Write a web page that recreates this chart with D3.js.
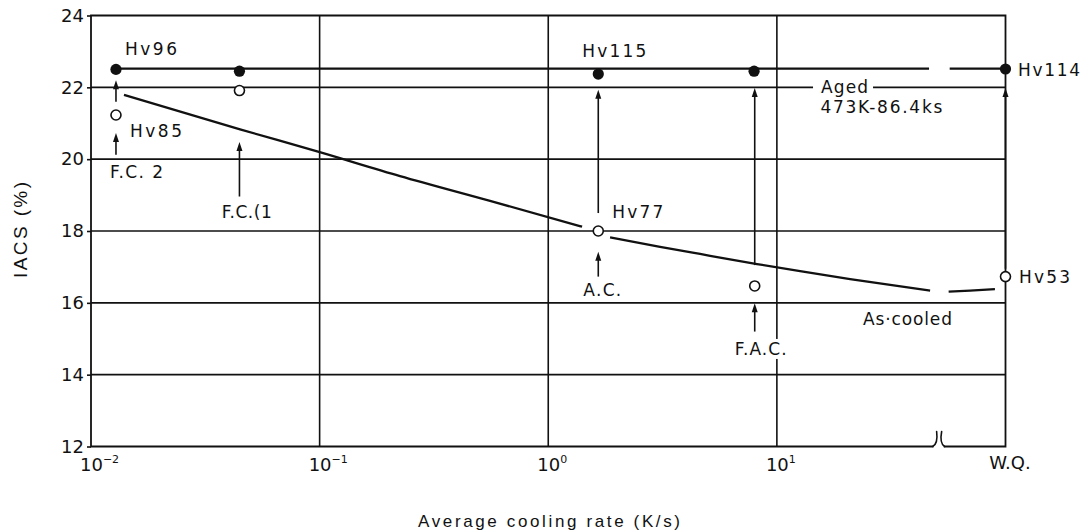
<!DOCTYPE html>
<html>
<head>
<meta charset="utf-8">
<script src="https://cdn.jsdelivr.net/npm/d3@7"></script>
<style>
  html, body { margin: 0; padding: 0; background: #fff; }
  svg { display: block; }
</style>
</head>
<body>
<svg id="chart" width="1085" height="531"></svg>
<script>
// ---- data ----
const xTicks = [0.01, 0.1, 1, 10, 100];
const xTickBase = ["10", "10", "10", "10", "W.Q."];
const xTickExp = ["\u22122", "\u22121", "0", "1", ""];
const yTicks = [12, 14, 16, 18, 20, 22, 24];
const gridX = [0.1, 1, 10];
const gridY = [14, 16, 18, 20, 22];
const breakRate = 51;

// measured points: aged (filled) and as-cooled (open)
const agedRate = [0.01286, 0.0446, 1.655, 7.95, 100];
const agedIACS = [22.50, 22.45, 22.37, 22.45, 22.51];
const cooledRate = [0.01286, 0.0446, 1.655, 8.0, 100];
const cooledIACS = [21.23, 21.91, 18.0, 16.47, 16.73];

// trend lines (null = gap in the drawn line)
const agedTrendRate = [0.01286, 46.3, null, 57.0, 100];
const agedTrendIACS = [22.52, 22.52, null, 22.52, 22.52];
const cooledTrendRate = [0.01394, 0.04487, 0.0984, 0.2247, 0.5564, 1.406, null,
                         1.864, 3.084, 4.615, 8.19, 12.64, 20.91, 46.8, null,
                         56.4, 70.0, 89.9];
const cooledTrendIACS = [21.79, 20.83, 20.21, 19.53, 18.84, 18.12, null,
                         17.82, 17.56, 17.36, 17.08, 16.88, 16.66, 16.34, null,
                         16.31, 16.34, 16.38];

// vertical arrows: rate, from IACS, to IACS
const arrowRate = [0.01286, 0.01286, 0.0446, 1.655, 1.655, 8.0, 8.0, 100];
const arrowFrom = [20.12, 21.60, 18.96, 16.73, 18.50, 15.20, 17.05, 16.95];
const arrowTo   = [20.73, 22.20, 20.48, 17.42, 21.93, 15.99, 21.98, 21.98];

// ---- layout ----
const W = 1085, H = 531;
const x = d3.scaleLog().domain([0.01, 100]).range([91, 1005.5]);
const y = d3.scaleLinear().domain([12, 24]).range([446.5, 15.5]);
const ink = "#111";

const svg = d3.select("#chart");
svg.append("rect").attr("width", W).attr("height", H).attr("fill", "#fff");

// grid
const grid = svg.append("g").attr("stroke", ink).attr("stroke-width", 1.6);
grid.selectAll("line.gx").data(gridX).join("line")
  .attr("x1", d => x(d)).attr("x2", d => x(d))
  .attr("y1", y(24)).attr("y2", y(12));
grid.selectAll("line.gy").data(gridY).join("line")
  .attr("x1", x(0.01)).attr("x2", x(100))
  .attr("y1", d => y(d)).attr("y2", d => y(d));

// frame with axis break at the bottom
const frame = svg.append("g").attr("stroke", ink).attr("stroke-width", 1.8)
  .attr("fill", "none").attr("stroke-linecap", "square");
const bx = x(breakRate);
frame.append("path").attr("d",
  `M${x(0.01)},${y(12)} V${y(24)} H${x(100)} V${y(12)} H${bx + 6}` +
  ` M${bx - 6},${y(12)} H${x(0.01)}`);
frame.append("path").attr("stroke-linecap", "round").attr("stroke-width", 1.6).attr("d",
  `M${bx - 2},${y(12) - 15} C${bx - 1},${y(12) - 7} ${bx - 2},${y(12) - 2} ${bx - 6},${y(12)}` +
  ` M${bx + 3},${y(12) - 15} C${bx + 1.5},${y(12) - 7} ${bx + 2.5},${y(12) - 2} ${bx + 6},${y(12)}`);

// axes
const gy = svg.append("g").attr("transform", `translate(${x(0.01)},0)`)
  .call(d3.axisLeft(y).tickValues(yTicks).tickSize(4).tickPadding(3));
gy.select(".domain").remove();
gy.selectAll(".tick line").attr("stroke", ink).attr("stroke-width", 1.6);
gy.selectAll(".tick text").attr("fill", ink)
  .attr("font-family", "'DejaVu Sans', sans-serif").attr("font-size", 18);

const gxAxis = svg.append("g").attr("transform", `translate(0,${y(12)})`)
  .call(d3.axisBottom(x).tickValues(xTicks).tickSize(0).tickFormat(() => ""));
gxAxis.select(".domain").remove();
gxAxis.selectAll(".tick text").each(function (d, i) {
  const t = d3.select(this).text(null)
    .attr("fill", ink).attr("font-family", "'DejaVu Sans', sans-serif")
    .attr("font-size", 18).attr("dy", null);
  if (xTickExp[i]) {
    t.attr("text-anchor", "start").attr("x", -11.5).attr("y", 24);
    t.append("tspan").text(xTickBase[i]);
    t.append("tspan").attr("font-size", 11).attr("dy", -8).text(xTickExp[i]);
  } else {
    t.attr("text-anchor", "middle").attr("x", 4).attr("y", 22).text(xTickBase[i]);
  }
});

// axis titles
svg.append("text")
  .attr("x", 549).attr("y", 527).attr("text-anchor", "middle")
  .attr("font-family", "'Liberation Sans', Arial, sans-serif").attr("font-size", 17)
  .attr("textLength", 262).attr("lengthAdjust", "spacing")
  .attr("fill", ink).text("Average cooling rate (K/s)");
svg.append("text")
  .attr("transform", "translate(26.5,230) rotate(-90)").attr("text-anchor", "middle")
  .attr("font-family", "'Liberation Sans', Arial, sans-serif").attr("font-size", 19)
  .attr("textLength", 96).attr("lengthAdjust", "spacing")
  .attr("fill", ink).text("IACS (%)");

// trend lines
const line = d3.line()
  .defined(d => d[0] != null)
  .x(d => x(d[0])).y(d => y(d[1]))
  .curve(d3.curveMonotoneX);
svg.append("path")
  .datum(agedTrendRate.map((r, i) => [r, agedTrendIACS[i]]))
  .attr("d", line).attr("fill", "none").attr("stroke", ink).attr("stroke-width", 2.2);
svg.append("path")
  .datum(cooledTrendRate.map((r, i) => [r, cooledTrendIACS[i]]))
  .attr("d", line).attr("fill", "none").attr("stroke", ink).attr("stroke-width", 2.3);

// arrows
const arrows = svg.append("g");
arrowRate.forEach((r, i) => {
  const ax = x(r), y0 = y(arrowFrom[i]), y1 = y(arrowTo[i]);
  arrows.append("line").attr("x1", ax).attr("x2", ax)
    .attr("y1", y0).attr("y2", y1 + 6)
    .attr("stroke", ink).attr("stroke-width", 1.6);
  arrows.append("path")
    .attr("d", `M${ax},${y1} L${ax - 3},${y1 + 9} L${ax + 3},${y1 + 9} Z`)
    .attr("fill", ink);
});

// points
svg.append("g").selectAll("circle").data(cooledRate).join("circle")
  .attr("cx", d => x(d)).attr("cy", (d, i) => y(cooledIACS[i]))
  .attr("r", 5).attr("fill", "#fff").attr("stroke", ink).attr("stroke-width", 1.6);
svg.append("g").selectAll("circle").data(agedRate).join("circle")
  .attr("cx", d => x(d)).attr("cy", (d, i) => y(agedIACS[i]))
  .attr("r", 5.6).attr("fill", ink);

// annotations
const notes = [
  { text: "Hv96",  px: x(agedRate[0]),   py: y(agedIACS[0]),   dx: 9,    dy: -14, len: 52 },
  { text: "Hv115", px: x(agedRate[2]),   py: y(agedIACS[2]),   dx: -16,  dy: -17, len: 64 },
  { text: "Hv114", px: x(agedRate[4]),   py: y(agedIACS[4]),   dx: 12.5, dy: 7,   len: 62 },
  { text: "Hv85",  px: x(cooledRate[0]), py: y(cooledIACS[0]), dx: 14,   dy: 22,  len: 52 },
  { text: "F.C. 2", px: x(cooledRate[0]), py: y(cooledIACS[0]), dx: -6,  dy: 63,  len: 53 },
  { text: "F.C.(1", px: x(cooledRate[1]), py: y(cooledIACS[1]), dx: -17.6, dy: 127, len: 50 },
  { text: "Hv77",  px: x(cooledRate[2]), py: y(cooledIACS[2]), dx: 14,   dy: -13, len: 51 },
  { text: "A.C.",  px: x(cooledRate[2]), py: y(cooledIACS[2]), dx: -15,  dy: 65,  len: 38 },
  { text: "F.A.C.", px: x(cooledRate[3]), py: y(cooledIACS[3]), dx: -20, dy: 69,  len: 52, bg: true },
  { text: "Hv53",  px: x(cooledRate[4]), py: y(cooledIACS[4]), dx: 13.5, dy: 6,   len: 51 },
  { text: "Aged",  px: x(15.6), py: y(21.84), dx: 0, dy: 0, len: 47, bg: true, padL: 8, padR: 5 },
  { text: "473K-86.4ks", px: x(15.5), py: y(21.29), dx: 0, dy: 0, len: 122 },
  { text: "As\u00b7cooled", px: x(23.8), py: y(15.38), dx: 0, dy: 0, len: 89 }
];
const ng = svg.append("g");
notes.forEach(n => {
  const g = ng.append("g");
  const t = g.append("text")
    .attr("x", n.px + n.dx).attr("y", n.py + n.dy)
    .attr("font-family", "'DejaVu Sans', sans-serif").attr("font-size", 17)
    .attr("textLength", n.len).attr("lengthAdjust", "spacing")
    .attr("fill", ink).text(n.text);
  if (n.bg) {
    const b = t.node().getBBox();
    const pl = n.padL || 2, pr = n.padR || 2;
    g.insert("rect", "text")
      .attr("x", b.x - pl).attr("y", b.y)
      .attr("width", b.width + pl + pr).attr("height", b.height)
      .attr("fill", "#fff");
  }
});
</script>
</body>
</html>
